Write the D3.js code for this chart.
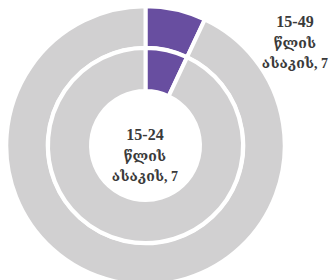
<!DOCTYPE html>
<html>
<head>
<meta charset="utf-8">
<script src="https://cdn.jsdelivr.net/npm/d3@7"></script>
<style>
  body { margin: 0; background: #fff; }
  text { font-family: "Liberation Serif", "DejaVu Serif", serif; font-weight: bold; fill: #3a3a3a; }
</style>
</head>
<body>
<div id="chart"></div>
<script>
// rings, outer = 15-49, inner = 15-24
const categories = ['share', 'rest'];
const outerValues = [7, 93];
const innerValues = [7, 93];
const outerLabel = ['15-49', 'წლის', 'ასაკის, 7'];
const innerLabel = ['15-24', 'წლის', 'ასაკის, 7'];

const width = 332, height = 280;
const cx = 145.5, cy = 145.5;

const color = d3.scaleOrdinal()
  .domain(categories)
  .range(['#684ea0', '#d1d0d1']);

const svg = d3.select('#chart').append('svg')
  .attr('width', width)
  .attr('height', height);

const g = svg.append('g')
  .attr('transform', `translate(${cx},${cy})`);

const pie = d3.pie().sort(null);

const rings = [
  { values: outerValues, inner: 97.8, outer: 139.2 },
  { values: innerValues, inner: 54.5, outer: 97.5 }
];

rings.forEach(r => {
  const arc = d3.arc().innerRadius(r.inner).outerRadius(r.outer);
  g.append('g')
    .selectAll('path')
    .data(pie(r.values))
    .enter().append('path')
    .attr('d', arc)
    .attr('fill', (d, i) => color(categories[i]))
    .attr('stroke', '#fff')
    .attr('stroke-width', 4);
});

const drawLabel = (lines, x, y0) => {
  const t = svg.append('text')
    .attr('text-anchor', 'middle');
  lines.forEach((l, i) => {
    t.append('tspan')
      .attr('x', x)
      .attr('y', y0 + i * 20.5)
      .style('font-size', i === 0 ? '16px' : '14px')
      .text(l);
  });
};

drawLabel(outerLabel, 295, 27);
drawLabel(innerLabel, 145, 140);
</script>
</body>
</html>
